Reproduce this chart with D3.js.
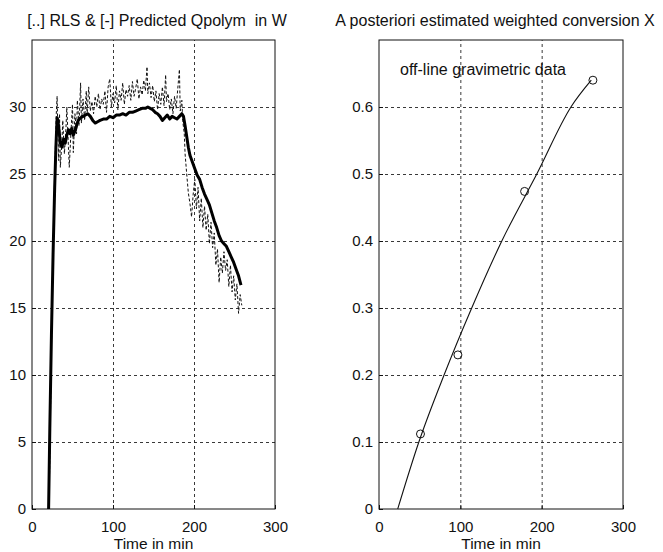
<!DOCTYPE html>
<html><head><meta charset="utf-8">
<script src="https://cdn.jsdelivr.net/npm/d3@7"></script>
<style>
body{margin:0;background:#fff;}
svg text{font-family:"Liberation Sans",Arial,sans-serif;fill:#111;white-space:pre;}
</style></head>
<body><svg id="c" width="663" height="552"></svg>
<script>
// ---------- data ----------
const leftTitle = "[..] RLS & [-] Predicted Qpolym  in W";
const rightTitle = "A posteriori estimated weighted conversion X";
const xLabel = "Time in min";
const annotation = "off-line gravimetric data";
const xTicks = [0, 100, 200, 300];
const leftYTicks = [0, 5, 10, 15, 20, 25, 30];
const rightYTicks = [0, 0.1, 0.2, 0.3, 0.4, 0.5, 0.6];

// predicted Qpolym (solid thick): [time, W]
const predTime = [20.5,22,24,26,28,29.5,31,32,33.5,35,37,39,41,43,45,47,49,51,53,55,57,60,63,66,69,72,75,78,81,84,88,92,96,100,104,108,112,116,120,124,128,132,136,140,143,146,149,152,155,158,161,164,167,170,173,176,179,182,185,187,189,191,193,195,198,201,204,207,210,213,216,219,222,225,228,231,234,237,240,243,246,249,252,255,258];
const predQ = [0,6,13,19,24,27,29.2,29.0,28.2,27.3,27.0,27.6,27.3,27.9,28.3,28.0,28.4,27.9,28.2,28.6,29.0,29.2,29.3,29.4,29.5,29.3,29.0,28.8,28.9,29.0,29.1,29.1,29.3,29.2,29.4,29.4,29.5,29.4,29.6,29.6,29.7,29.8,29.9,29.9,30.0,29.9,29.8,29.6,29.5,29.3,29.0,29.2,29.4,29.1,29.3,29.2,29.1,29.3,29.5,29.3,28.6,27.8,27.0,26.4,25.9,25.4,24.9,24.6,24.0,23.5,23.1,22.7,22.1,21.5,21.0,20.4,20.0,19.8,19.6,19.2,18.8,18.4,17.9,17.4,16.7];

// RLS estimate (thin dashed): [time, W]
const rlsTime = [21,23,25,27,28.5,30,31,32,33,34,35,37,38,40,42,43,45,46,48,50,51,53,55,56,58,60,61,63,65,67,68,70,72,74,76,78,80,82,84,86,88,90,92,94,96,98,100,102,104,106,108,110,112,114,116,118,120,122,124,126,128,130,132,134,136,138,140,142,143,145,147,149,151,153,155,157,159,161,163,165,166,168,170,172,174,176,178,180,182,183,185,186,188,189,191,193,195,197,199,201,203,205,207,209,211,213,215,217,219,221,223,225,227,229,231,233,235,237,239,241,243,245,247,249,251,253,255,257,259];
const rlsQ = [0,8,16,22,26,29.5,30.8,28,26,29.5,25.5,27.5,29,26.5,28.5,30,27,25.5,28,30.2,26.6,29.5,28,30.5,28.6,31.8,28.8,30.6,29,31.2,29.4,31.5,29.7,30.4,29.5,30.8,30,31,29.8,30.6,30.2,31.2,29.6,31.5,32.1,30,31,30.3,31.6,29.8,31.2,30.5,31.8,30.2,31.3,30.8,31.6,30.5,31.9,30.8,31.4,32.1,30.6,31.5,30.9,32.0,31.2,33.0,31.0,31.8,30.7,31.6,30.4,31.2,29.8,31.0,30.2,31.5,30.1,32.4,30.4,31.0,29.8,30.6,29.5,30.8,29.9,31.4,32.8,29.7,30.5,29.0,28.0,26.5,25.0,23.6,22.8,21.8,23.5,24.6,22.4,24.0,21.5,23.2,21.0,22.6,20.8,22.0,19.8,21.4,19.5,20.6,18.2,19.4,16.9,18.8,17.6,19.2,17.8,18.6,16.6,18.2,16.2,17.4,15.6,16.8,14.6,16.0,15.2];

// conversion estimate (thin solid)
const convTime = [23,49,80,114,151,194,236,261];
const convX = [0,0.1,0.2,0.3,0.4,0.5,0.6,0.64];

// off-line gravimetric data (circles)
const gravTime = [51, 97, 179, 263];
const gravX = [0.112, 0.23, 0.474, 0.64];

// ---------- drawing ----------
const svg = d3.select("#c");
const plotTop = 40, plotBottom = 509;

function panel(x0, x1, yMax, yTicks, yFmt, title, titleX) {
  const g = svg.append("g");
  const x = d3.scaleLinear().domain([0, 300]).range([x0, x1]);
  const y = d3.scaleLinear().domain([0, yMax]).range([plotBottom, plotTop]);
  // grid
  g.append("g").attr("transform", `translate(0,${plotBottom})`)
    .call(d3.axisBottom(x).tickValues(xTicks.filter(v => v > 0 && v < 300)).tickSize(-(plotBottom - plotTop)).tickFormat(""))
    .call(a => a.select(".domain").remove())
    .selectAll("line").attr("stroke", "#222").attr("stroke-dasharray", "3,3").attr("stroke-width", 0.9);
  g.append("g").attr("transform", `translate(${x0},0)`)
    .call(d3.axisLeft(y).tickValues(yTicks.filter(v => v > 0)).tickSize(-(x1 - x0)).tickFormat(""))
    .call(a => a.select(".domain").remove())
    .selectAll("line").attr("stroke", "#222").attr("stroke-dasharray", "3,3").attr("stroke-width", 0.9);
  // axes with labels
  const ax = g.append("g").attr("transform", `translate(0,${plotBottom})`)
    .call(d3.axisBottom(x).tickValues(xTicks).tickSizeInner(-4).tickSizeOuter(0).tickPadding(9).tickFormat(d3.format("d")));
  ax.select(".domain").remove();
  ax.selectAll("text").attr("font-size", 15).attr("dy", "0.9em");
  const ay = g.append("g").attr("transform", `translate(${x0},0)`)
    .call(d3.axisLeft(y).tickValues(yTicks).tickSizeInner(-4).tickSizeOuter(0).tickPadding(6).tickFormat(yFmt));
  ay.select(".domain").remove();
  ay.selectAll("text").attr("font-size", 15);
  ax.selectAll("line").attr("stroke", "#111");
  ay.selectAll("line").attr("stroke", "#111");
  // frame
  g.append("rect").attr("x", x0).attr("y", plotTop).attr("width", x1 - x0).attr("height", plotBottom - plotTop)
    .attr("fill", "none").attr("stroke", "#111").attr("stroke-width", 1);
  // title & label
  svg.append("text").attr("x", titleX).attr("y", 26).attr("text-anchor", "middle")
    .attr("font-size", 16).text(title);
  svg.append("text").attr("x", (x0 + x1) / 2).attr("y", 549).attr("text-anchor", "middle")
    .attr("font-size", 15.5).text(xLabel);
  return {g, x, y};
}

// left panel
const L = panel(32, 275, 35, leftYTicks, d3.format("d"), leftTitle, 157);
const rls = rlsTime.map((t, i) => [t, rlsQ[i]]);
const pred = predTime.map((t, i) => [t, predQ[i]]);
L.g.append("path").datum(rls)
  .attr("d", d3.line().x(d => L.x(d[0])).y(d => L.y(d[1])))
  .attr("fill", "none").attr("stroke", "#111").attr("stroke-width", 1).attr("stroke-dasharray", "3,2");
L.g.append("path").datum(pred)
  .attr("d", d3.line().x(d => L.x(d[0])).y(d => L.y(d[1])))
  .attr("fill", "none").attr("stroke", "#000").attr("stroke-width", 3).attr("stroke-linejoin", "round");

// right panel
const R = panel(379, 623, 0.7, rightYTicks, d => d === 0 ? "0" : d3.format(".1f")(d), rightTitle, 495);
const conv = convTime.map((t, i) => [t, convX[i]]);
R.g.append("path").datum(conv)
  .attr("d", d3.line().curve(d3.curveMonotoneX).x(d => R.x(d[0])).y(d => R.y(d[1])))
  .attr("fill", "none").attr("stroke", "#111").attr("stroke-width", 1.1);
R.g.selectAll("circle.g").data(gravTime).enter().append("circle")
  .attr("cx", (d) => R.x(d)).attr("cy", (d, i) => R.y(gravX[i])).attr("r", 4)
  .attr("fill", "none").attr("stroke", "#111").attr("stroke-width", 1);
svg.append("text").attr("x", 400).attr("y", 75).attr("font-size", 16).text(annotation);
</script></body></html>
